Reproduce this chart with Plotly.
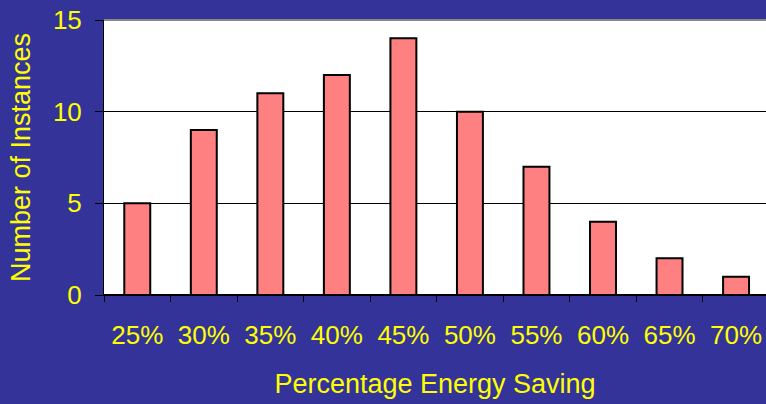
import plotly.graph_objects as go

categories = ["25%", "30%", "35%", "40%", "45%", "50%", "55%", "60%", "65%", "70%"]
instances = [5, 9, 11, 12, 14, 10, 7, 4, 2, 1]
y_ticks = [0, 5, 10, 15]

BG = "#333399"
TXT = "#FFFF00"
FONT = "Liberation Sans, Arial, sans-serif"

fig = go.Figure(go.Bar(
    x=categories, y=instances,
    marker=dict(color="#FF8080", line=dict(color="black", width=2)),
    width=0.39,
))

fig.update_layout(
    width=766, height=404,
    paper_bgcolor=BG, plot_bgcolor="white",
    margin=dict(l=104, r=0, t=20, b=109),
    font=dict(family=FONT, color=TXT, size=26),
    showlegend=False,
)
fig.update_xaxes(
    type="category", range=[-0.5, 9.45],
    showline=True, linecolor="black", linewidth=1,
    ticks="outside", tickson="boundaries", ticklen=6, tickcolor="black",
    tickfont=dict(size=26, color=TXT), ticklabelstandoff=17,
    title=dict(text="Percentage Energy Saving", font=dict(size=27, color=TXT), standoff=24),
    showgrid=False,
)
fig.update_yaxes(
    range=[0, 15], tickvals=y_ticks,
    showline=True, linecolor="black", linewidth=1,
    ticks="outside", ticklen=8, tickcolor="black",
    tickfont=dict(size=26, color=TXT), ticklabelstandoff=8,
    showgrid=True, gridcolor="black", gridwidth=1,
    zeroline=True, zerolinecolor="black",
    title=dict(text="Number of Instances", font=dict(size=27, color=TXT), standoff=14),
)
# top border line of plot area
fig.add_shape(type="line", xref="paper", yref="paper", x0=0, x1=1, y0=1, y1=1,
              line=dict(color="#888888", width=2))

fig.write_html("out.html")
